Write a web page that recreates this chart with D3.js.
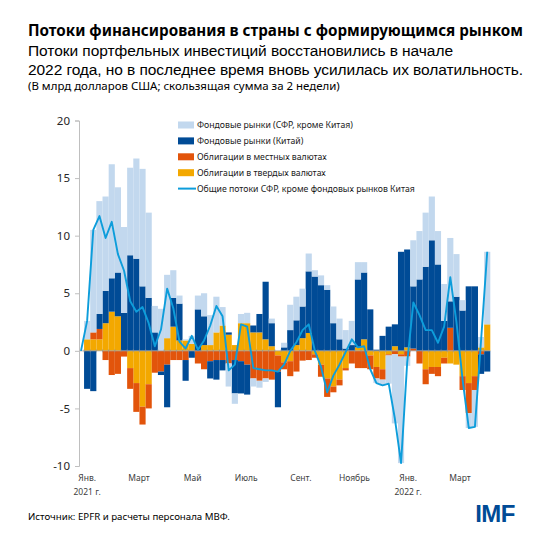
<!DOCTYPE html>
<html><head><meta charset="utf-8">
<script src="https://cdn.jsdelivr.net/npm/d3@7"></script>
<style>body{margin:0;background:#fff} svg{display:block}</style>
</head><body><svg id="c" width="542" height="542"></svg>
<script>
// ---- data (billions of USD, 2-week rolling sum), weekly ----
const firstWeek = "2020-12-25";
const emxcEquity = [0,1.6,8.9,9.8,8.2,9.9,7.4,7.45,7.6,8.7,10.2,7.4,2.3,3.65,5.5,2.4,0.7,0.1,0.7,1.2,2.0,2.6,3.1,1.6,-2.0,-0.9,0.8,0.9,-0.7,-0.6,-0.3,0.4,0,0.4,2.2,2.05,1.55,1.55,0.55,0.85,0.4,1.45,1.8,1.6,2.1,1.5,0.9,0,-0.4,-0.5,-2.45,-6.0,-9.25,-0.8,4.0,4.2,4.7,3.8,2.9,3.2,5.5,3.7,0.9,-1.3,-3.2,0.9,6.3];
const chinaEquity = [0,-3.3,-3.5,1.3,2.8,2.9,3.8,3.3,8.3,8.0,5.6,4.6,1.6,-0.3,-3.7,2.5,3.2,-1.8,-0.6,3.6,2.5,-1.5,-1.7,-0.9,0.2,-2.9,-2.8,-2.6,0.6,1.6,5.0,2.0,-3.1,0.3,1.8,2.15,2.75,5.35,6.45,5.7,5.3,2.4,1.0,0.2,0.5,5.9,5.8,3.6,0.1,1.3,2.1,1.9,8.6,8.5,5.4,6.2,7.3,9.6,7.5,2.6,2.3,4.7,3.5,5.6,5.6,-1.7,-1.8];
const localBonds = [0,0,0.6,0.9,-0.8,-2.1,-2.0,-0.5,-1.8,-2.5,-1.55,-2.1,-1.9,-1.8,-1.2,-0.8,-0.8,-0.8,0,-1.1,-1.6,-0.9,-0.8,-0.8,-1.1,-0.8,-0.9,-1.2,-2.4,-2.6,-2.4,-2.5,-1.4,-0.6,-1.3,-1.8,-0.85,-0.8,-0.3,-1.05,-1.6,-0.5,-0.5,-0.2,-1.1,-1.5,-1.5,-1.2,-1.0,-0.9,-0.1,-0.3,-0.2,-0.5,0.2,-1.1,-1.3,-0.6,-0.8,-0.5,2.0,0,-1.2,-2.6,-1.2,-0.3,0];
const hardBonds = [0,1.0,1.0,1.0,2.4,3.4,3.0,0,-1.5,-2.8,-4.85,-2.9,0,0,1.1,2.1,0.9,0.9,0.6,0,0.5,0.5,1.6,2.2,1.4,0.5,2.4,2.4,1.6,1.6,1.0,0.4,-0.4,-1.0,-0.9,0.5,1.1,1.55,-0.3,-1.2,-2.4,-3.1,-2.5,-1.5,0,0.3,1.0,-0.4,-1.4,-1.6,-0.3,0.4,-0.3,0.3,0,0,-1.6,-1.4,-1.4,-0.6,-1.1,-1.2,-2.2,-2.8,-2.2,0.3,2.3];
const totalExChina = [0,2.6,10.5,11.7,9.8,11.2,8.4,6.95,4.3,3.4,3.8,2.4,0.4,1.85,5.4,3.7,0.8,0.2,1.3,0.1,0.9,2.2,3.9,3.0,-1.7,-1.2,2.3,2.1,-1.5,-1.6,-1.7,-1.7,-1.8,-1.2,0.0,0.75,1.8,2.3,0.0,-1.4,-3.6,-2.15,-1.2,-0.1,1.0,0.3,0.4,-1.6,-2.8,-3.0,-2.85,-5.9,-9.75,-1.0,4.2,3.1,1.8,1.8,0.7,2.1,6.4,2.5,-2.5,-6.7,-6.6,0.9,8.6];
const yTicks = [-10,-5,0,5,10,15,20];
const monthTickDates = ["2021-01-01","2021-03-01","2021-05-01","2021-07-01","2021-09-01","2021-11-01","2022-01-01","2022-03-01"];
const monthLabels = ["Янв.","Март","Май","Июль","Сент.","Ноябрь","Янв.","Март"];
const yearLabels = ["2021 г.","","","","","","2022 г.",""];
const seriesKeys = ["hard","local","china","emxc"];
const legendLabels = ["Фондовые рынки (СФР, кроме Китая)","Фондовые рынки (Китай)","Облигации в местных валютах","Облигации в твердых валютах","Общие потоки СФР, кроме фондовых рынков Китая"];

// ---- styling ----
const colors = {emxc:"#c2d8ee", china:"#004b96", local:"#e2540b", hard:"#f3a800", line:"#0d9ddb"};
const FONT = "'Noto Sans', 'Open Sans', sans-serif";
const SUBFONT = "'Liberation Sans', Arial, sans-serif";

const parse = d3.utcParse("%Y-%m-%d");
const d0 = parse(firstWeek);
const dates = emxcEquity.map((_, i) => d3.utcDay.offset(d0, 7 * i));
const rows = dates.map((d, i) => ({date: d, hard: hardBonds[i], local: localBonds[i], china: chinaEquity[i], emxc: emxcEquity[i], total: totalExChina[i]}));

const svg = d3.select("#c");
const half = 3.5 * 864e5;
const x = d3.scaleUtc().domain([new Date(+dates[0] - half), new Date(+dates[dates.length - 1] + half)]).range([77.9, 490.3]);
const y = d3.scaleLinear().domain([-10, 20]).range([466, 120.5]);
const bw = x(dates[1]) - x(dates[0]);

function fit(sel, target) {
  const w = sel.node().getComputedTextLength();
  const fs = parseFloat(sel.attr("font-size"));
  sel.attr("font-size", (fs * target / w).toFixed(2));
  return fs * target / w;
}

// ---- titles ----
const t = svg.append("text").attr("x", 28).attr("y", 36).attr("font-family", FONT).attr("font-weight", 700).attr("font-size", 15).attr("fill", "#000").text("Потоки финансирования в страны с формирующимся рынком");
fit(t, 495);
svg.append("text").attr("x", 28).attr("y", 56).attr("font-family", SUBFONT).attr("font-size", 15.5).attr("fill", "#000")
  .attr("textLength", 425).attr("lengthAdjust", "spacing").text("Потоки портфельных инвестиций восстановились в начале");
svg.append("text").attr("x", 28).attr("y", 74.5).attr("font-family", SUBFONT).attr("font-size", 15.5).attr("fill", "#000")
  .attr("textLength", 495).attr("lengthAdjust", "spacing").text("2022 года, но в последнее время вновь усилилась их волатильность.");
const note = svg.append("text").attr("x", 28).attr("y", 90).attr("font-family", FONT).attr("font-size", 10).attr("fill", "#000").text("(В млрд долларов США; скользящая сумма за 2 недели)");
fit(note, 312);

// ---- bars ----
const stack = d3.stack().keys(seriesKeys).offset(d3.stackOffsetDiverging);
const layers = stack(rows);
svg.append("g").selectAll("g").data(layers).join("g")
  .attr("fill", d => colors[d.key])
  .selectAll("rect").data(d => d).join("rect")
  .attr("x", d => x(d.data.date) - bw / 2)
  .attr("width", bw)
  .attr("y", d => y(Math.max(d[0], d[1])))
  .attr("height", d => Math.abs(y(d[0]) - y(d[1])));

// ---- zero axis with category ticks ----
const y0 = y(0);
svg.append("line").attr("x1", 79).attr("x2", x.range()[1]).attr("y1", y0).attr("y2", y0).attr("stroke", "#a6a6a6").attr("stroke-width", 0.8);
svg.append("g").selectAll("line").data(dates.slice(1)).join("line")
  .attr("x1", d => x(d) - bw / 2).attr("x2", d => x(d) - bw / 2)
  .attr("y1", y0 - 1.5).attr("y2", y0 + 1.5)
  .attr("stroke", "#8c8c8c").attr("stroke-width", 0.6);

// ---- line ----
svg.append("path").datum(rows)
  .attr("fill", "none").attr("stroke", colors.line).attr("stroke-width", 1.9).attr("stroke-linejoin", "round")
  .attr("d", d3.line().x(d => x(d.date)).y(d => y(d.total)));

// ---- y axis ----
const yAxis = svg.append("g").attr("transform", "translate(79,0)")
  .call(d3.axisLeft(y).tickValues(yTicks).tickSize(4).tickPadding(5).tickFormat(d3.format("d")));
yAxis.select(".domain").attr("stroke", "#bfbfbf");
yAxis.selectAll(".tick line").attr("stroke", "#bfbfbf");
yAxis.selectAll(".tick text").attr("font-family", FONT).attr("font-size", 11.5).attr("fill", "#262626").text(d => d < 0 ? "-" + Math.abs(d) : d);

// ---- x labels ----
const xl = svg.append("g").selectAll("g").data(monthTickDates).join("g");
xl.append("text").attr("x", d => x(parse(d))).attr("y", 481).attr("text-anchor", "middle")
  .attr("font-family", FONT).attr("font-size", 8.5).attr("fill", "#404040").text((d, i) => monthLabels[i]);
xl.append("text").attr("x", d => x(parse(d))).attr("y", 495).attr("text-anchor", "middle")
  .attr("font-family", FONT).attr("font-size", 8.5).attr("fill", "#404040").text((d, i) => yearLabels[i]);

// ---- legend ----
const legKeys = ["emxc", "china", "local", "hard", "line"];
const lg = svg.append("g").selectAll("g").data(legKeys).join("g")
  .attr("transform", (d, i) => `translate(178,${125 + i * 15.9})`);
lg.filter(d => d !== "line").append("rect").attr("x", 0).attr("y", -3.5).attr("width", 16).attr("height", 7).attr("fill", d => colors[d]);
lg.filter(d => d === "line").append("line").attr("x1", 0).attr("x2", 18).attr("y1", 0).attr("y2", 0).attr("stroke", colors.line).attr("stroke-width", 2);
const lt = lg.append("text").attr("x", 19).attr("y", 3).attr("font-family", FONT).attr("font-size", 8.5).attr("fill", "#1a1a1a").text((d, i) => legendLabels[i]);
const lfs = fit(d3.select(lt.nodes()[0]), 156);
lt.attr("font-size", lfs.toFixed(2));

// ---- source & logo ----
const src = svg.append("text").attr("x", 28).attr("y", 520).attr("font-family", FONT).attr("font-size", 10).attr("fill", "#000").text("Источник: EPFR и расчеты персонала МВФ.");
fit(src, 202);
svg.append("text").attr("x", 515).attr("y", 522).attr("text-anchor", "end").attr("font-family", "'Liberation Sans', Arial, sans-serif").attr("font-weight", 700).attr("font-size", 24).attr("fill", "#004b96").attr("letter-spacing", "-0.5").text("IMF");
</script></body></html>
